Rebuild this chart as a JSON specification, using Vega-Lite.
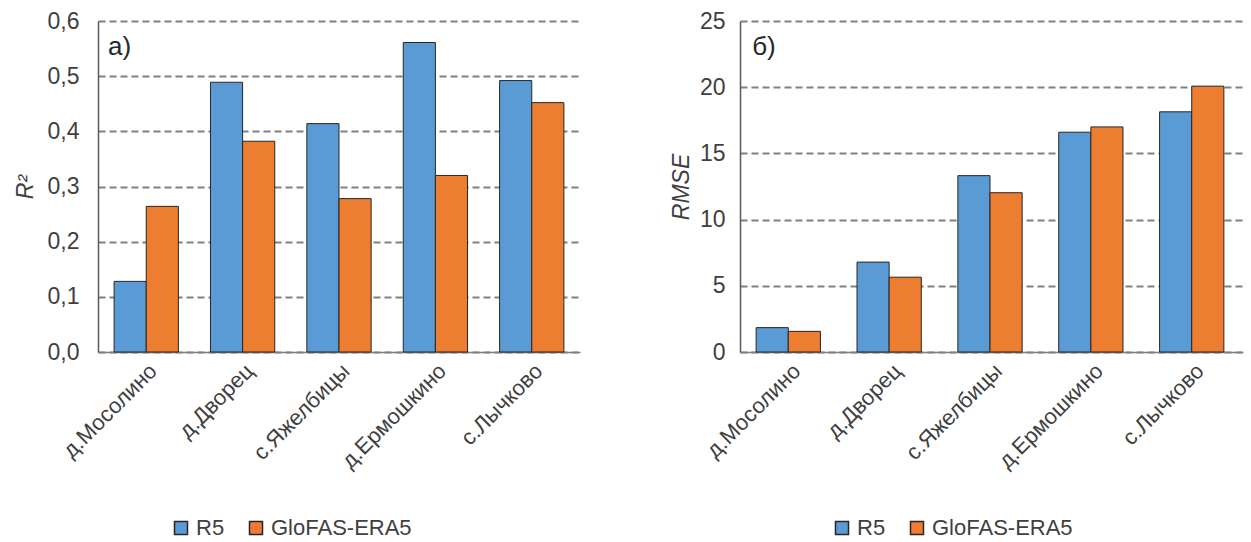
{
  "$schema": "https://vega.github.io/schema/vega-lite/v6.json",
  "padding": {"left": 14, "top": 10, "right": 8, "bottom": 0},
  "background": "white",
  "config": {
    "font": "Liberation Sans",
    "view": {"stroke": null},
    "concat": {"spacing": 90},
    "axis": {"labelFont": "Liberation Sans", "titleFont": "Liberation Sans", "labelColor": "#404040", "titleColor": "#404040", "ticks": false}
  },
  "datasets": {
    "r2": [
      {"site": "д.Мосолино", "model": "R5", "value": 0.128},
      {"site": "д.Мосолино", "model": "GloFAS-ERA5", "value": 0.264},
      {"site": "д.Дворец", "model": "R5", "value": 0.489},
      {"site": "д.Дворец", "model": "GloFAS-ERA5", "value": 0.382},
      {"site": "с.Яжелбицы", "model": "R5", "value": 0.414},
      {"site": "с.Яжелбицы", "model": "GloFAS-ERA5", "value": 0.278},
      {"site": "д.Ермошкино", "model": "R5", "value": 0.561},
      {"site": "д.Ермошкино", "model": "GloFAS-ERA5", "value": 0.320},
      {"site": "с.Лычково", "model": "R5", "value": 0.492},
      {"site": "с.Лычково", "model": "GloFAS-ERA5", "value": 0.452}
    ],
    "rmse": [
      {"site": "д.Мосолино", "model": "R5", "value": 1.84},
      {"site": "д.Мосолино", "model": "GloFAS-ERA5", "value": 1.56},
      {"site": "д.Дворец", "model": "R5", "value": 6.79},
      {"site": "д.Дворец", "model": "GloFAS-ERA5", "value": 5.65},
      {"site": "с.Яжелбицы", "model": "R5", "value": 13.32},
      {"site": "с.Яжелбицы", "model": "GloFAS-ERA5", "value": 12.03},
      {"site": "д.Ермошкино", "model": "R5", "value": 16.6},
      {"site": "д.Ермошкино", "model": "GloFAS-ERA5", "value": 17.0},
      {"site": "с.Лычково", "model": "R5", "value": 18.14},
      {"site": "с.Лычково", "model": "GloFAS-ERA5", "value": 20.08}
    ],
    "labA": [{"site": "д.Мосолино", "value": 0.553, "txt": "а)"}],
    "labB": [{"site": "д.Мосолино", "value": 23.0, "txt": "б)"}]
  },
  "resolve": {"scale": {"color": "independent"}, "legend": {"color": "independent"}},
  "hconcat": [
    {
      "width": 482,
      "height": 331,
      "layer": [
        {
          "data": {"name": "r2"},
          "mark": {"type": "bar", "stroke": "#262626", "strokeWidth": 1},
          "encoding": {
            "x": {
              "field": "site", "type": "nominal",
              "sort": ["д.Мосолино", "д.Дворец", "с.Яжелбицы", "д.Ермошкино", "с.Лычково"],
              "scale": {"paddingInner": 0.333, "paddingOuter": 0.167},
              "axis": {"title": null, "labelAngle": -45, "labelFontSize": 22, "labelPadding": 8, "domainColor": "#808080", "domainWidth": 1.5, "grid": false}
            },
            "xOffset": {"field": "model", "type": "nominal", "sort": ["R5", "GloFAS-ERA5"], "scale": {"paddingInner": 0, "paddingOuter": 0}},
            "y": {
              "field": "value", "type": "quantitative",
              "scale": {"domain": [0, 0.6], "nice": false},
              "axis": {"title": "R²", "titleFontStyle": "italic", "titleFontWeight": "normal", "titleFontSize": 23, "titlePadding": 10,
                       "values": [0, 0.1, 0.2, 0.3, 0.4, 0.5, 0.6],
                       "labelExpr": "replace(format(datum.value, '.1f'), '.', ',')",
                       "labelFontSize": 23, "labelPadding": 19,
                       "grid": true, "gridDash": [7, 4], "gridColor": "#808080", "gridWidth": 1.8,
                       "domainColor": "#595959", "domainWidth": 1.5}
            },
            "color": {
              "field": "model", "type": "nominal",
              "scale": {"domain": ["R5", "GloFAS-ERA5"], "range": ["#5B9BD5", "#ED7D31"]},
              "legend": {"title": null, "orient": "none", "legendX": 72, "legendY": 496, "direction": "horizontal", "symbolType": "square", "symbolSize": 169, "labelFont": "Liberation Sans", "labelFontSize": 22, "labelColor": "#404040", "columnPadding": 20, "labelOffset": 4,
                         "encode": {"symbols": {"update": {"stroke": {"value": "#262626"}, "strokeWidth": {"value": 1.2}}}}}
            }
          }
        },
        {
          "data": {"name": "labA"},
          "mark": {"type": "text", "align": "left", "baseline": "middle", "fontSize": 26, "color": "#262626", "dx": -6},
          "encoding": {
            "x": {"field": "site", "type": "nominal", "bandPosition": 0, "sort": ["д.Мосолино", "д.Дворец", "с.Яжелбицы", "д.Ермошкино", "с.Лычково"]},
            "y": {"field": "value", "type": "quantitative"},
            "text": {"field": "txt"}
          }
        }
      ]
    },
    {
      "width": 503,
      "height": 331,
      "layer": [
        {
          "data": {"name": "rmse"},
          "mark": {"type": "bar", "stroke": "#262626", "strokeWidth": 1},
          "encoding": {
            "x": {
              "field": "site", "type": "nominal",
              "sort": ["д.Мосолино", "д.Дворец", "с.Яжелбицы", "д.Ермошкино", "с.Лычково"],
              "scale": {"paddingInner": 0.333, "paddingOuter": 0.16},
              "axis": {"title": null, "labelAngle": -45, "labelFontSize": 22, "labelPadding": 8, "domainColor": "#808080", "domainWidth": 1.5, "grid": false}
            },
            "xOffset": {"field": "model", "type": "nominal", "sort": ["R5", "GloFAS-ERA5"], "scale": {"paddingInner": 0, "paddingOuter": 0}},
            "y": {
              "field": "value", "type": "quantitative",
              "scale": {"domain": [0, 25], "nice": false},
              "axis": {"title": "RMSE", "titleFontStyle": "italic", "titleFontWeight": "normal", "titleFontSize": 23, "titlePadding": 6,
                       "values": [0, 5, 10, 15, 20, 25],
                       "labelFontSize": 23, "labelPadding": 15,
                       "grid": true, "gridDash": [7, 4], "gridColor": "#808080", "gridWidth": 1.8,
                       "domainColor": "#595959", "domainWidth": 1.5}
            },
            "color": {
              "field": "model", "type": "nominal",
              "scale": {"domain": ["R5", "GloFAS-ERA5"], "range": ["#5B9BD5", "#ED7D31"]},
              "legend": {"title": null, "orient": "none", "legendX": 91, "legendY": 496, "direction": "horizontal", "symbolType": "square", "symbolSize": 169, "labelFont": "Liberation Sans", "labelFontSize": 22, "labelColor": "#404040", "columnPadding": 20, "labelOffset": 4,
                         "encode": {"symbols": {"update": {"stroke": {"value": "#262626"}, "strokeWidth": {"value": 1.2}}}}}
            }
          }
        },
        {
          "data": {"name": "labB"},
          "mark": {"type": "text", "align": "left", "baseline": "middle", "fontSize": 26, "color": "#262626", "dx": -4},
          "encoding": {
            "x": {"field": "site", "type": "nominal", "bandPosition": 0, "sort": ["д.Мосолино", "д.Дворец", "с.Яжелбицы", "д.Ермошкино", "с.Лычково"]},
            "y": {"field": "value", "type": "quantitative"},
            "text": {"field": "txt"}
          }
        }
      ]
    }
  ]
}
